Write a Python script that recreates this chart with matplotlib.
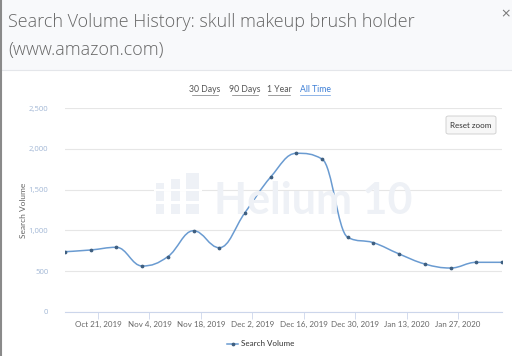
import datetime as dt
import numpy as np
import matplotlib
matplotlib.use("Agg")
import matplotlib.pyplot as plt
import matplotlib.dates as mdates
from matplotlib.path import Path
from matplotlib.patches import PathPatch, Rectangle, FancyBboxPatch

# weekly search volume
dates = [dt.date(2019, 10, 12) + dt.timedelta(days=7 * i) for i in range(18)]
volume = [739, 760, 793, 564, 678, 996, 788, 1217, 1654, 1945,
          1875, 915, 849, 711, 588, 539, 609, 609]
tick_dates = [dt.date(2019, 10, 21) + dt.timedelta(days=14 * i) for i in range(8)]
tick_labels = ["Oct 21, 2019", "Nov 4, 2019", "Nov 18, 2019", "Dec 2, 2019",
               "Dec 16, 2019", "Dec 30, 2019", "Jan 13, 2020", "Jan 27, 2020"]
y_ticks = [0, 500, 1000, 1500, 2000, 2500]
ranges = ["30 Days", "90 Days", "1 Year", "All Time"]

line_color = "#6a9bd1"
font = "Lato"
wm_color = "#eef1f6"


def spline_path(xs, ys, smoothing=1.5):
    # highcharts-style spline control points
    n = len(xs)
    left = [None] * n
    right = [None] * n
    for i in range(1, n - 1):
        x, y = xs[i], ys[i]
        lx, ly = xs[i - 1], ys[i - 1]
        nx, ny = xs[i + 1], ys[i + 1]
        d = smoothing + 1
        lcx = (smoothing * x + lx) / d
        lcy = (smoothing * y + ly) / d
        rcx = (smoothing * x + nx) / d
        rcy = (smoothing * y + ny) / d
        corr = (rcy - lcy) * (rcx - x) / (rcx - lcx) + y - rcy
        lcy += corr
        rcy += corr
        if lcy > ly and lcy > y:
            lcy = max(ly, y)
            rcy = 2 * y - lcy
        elif lcy < ly and lcy < y:
            lcy = min(ly, y)
            rcy = 2 * y - lcy
        if rcy > ny and rcy > y:
            rcy = max(ny, y)
            lcy = 2 * y - rcy
        elif rcy < ny and rcy < y:
            rcy = min(ny, y)
            lcy = 2 * y - rcy
        left[i] = (lcx, lcy)
        right[i] = (rcx, rcy)
    verts = [(xs[0], ys[0])]
    codes = [Path.MOVETO]
    for i in range(1, n):
        c1 = right[i - 1] if right[i - 1] else (xs[i - 1], ys[i - 1])
        c2 = left[i] if left[i] else (xs[i], ys[i])
        verts += [c1, c2, (xs[i], ys[i])]
        codes += [Path.CURVE4] * 3
    return Path(verts, codes)


def px(x, y):
    return x / 512, 1 - y / 356


fig = plt.figure(figsize=(5.12, 3.56), dpi=100)
fig.patch.set_facecolor("white")

# header band
fig.patches.append(Rectangle((0, 1 - 70 / 356), 1, 70 / 356, transform=fig.transFigure,
                             facecolor="#f8f9fb", edgecolor="none", zorder=0))
fig.lines.append(plt.Line2D([0, 1], [1 - 70 / 356] * 2, transform=fig.transFigure,
                            color="#e4e6ea", lw=0.8))
fig.lines.append(plt.Line2D([0.002, 0.002], [0, 1], transform=fig.transFigure,
                            color="#8a8a8a", lw=1.5))
fig.text(*px(8, 27), "Search Volume History: skull makeup brush holder",
         fontsize=13, color="#666666", family="Open Sans", fontweight="light",
         va="baseline")
fig.text(*px(8, 55), "(www.amazon.com)",
         fontsize=13, color="#666666", family="Open Sans", fontweight="light",
         va="baseline")
fig.text(*px(506, 14), "×", fontsize=9, color="#777777", ha="center", va="center")

# range selector
rx = [205, 245, 279, 315]
for label, x in zip(ranges, rx):
    col = "#3d7fd6" if label == "All Time" else "#555555"
    fig.text(*px(x, 90), label, fontsize=6.2, color=col, ha="center",
             va="center", family=font)
    w = len(label) * 3.7 / 2
    fig.lines.append(plt.Line2D([(x - w) / 512, (x + w) / 512], [1 - 95 / 356] * 2,
                                transform=fig.transFigure, color=col, lw=0.5,
                                alpha=0.8))

ax = fig.add_axes([65 / 512, 1 - 312 / 356, 437 / 512, 204 / 356])
xs = mdates.date2num(dates)
ax.add_patch(PathPatch(spline_path(list(xs), volume), facecolor="none",
                       edgecolor=line_color, lw=1.1, zorder=3))
ax.plot(xs, volume, ls="none", marker="o", ms=1.7, color="#3f5f80", zorder=4)

ax.set_xlim(xs[0], xs[-1])
ax.set_ylim(0, 2500)
ax.set_yticks(y_ticks)
ax.set_yticklabels([f"{v:,}" for v in y_ticks], color="#a3b8d6", fontsize=5.6,
                   family="Open Sans")
ax.set_xticks(mdates.date2num(tick_dates))
ax.set_xticklabels(tick_labels, color="#666666", fontsize=5.8, family=font)
ax.tick_params(axis="y", length=0, pad=12)
ax.tick_params(axis="x", length=5, width=0.6, color="#ccd6eb", pad=1.5)
ax.grid(axis="y", color="#e6e6e6", lw=0.8)
ax.set_axisbelow(True)
for s in ["top", "right", "left"]:
    ax.spines[s].set_visible(False)
ax.spines["bottom"].set_color("#ccd6eb")
ax.spines["bottom"].set_linewidth(0.8)
ax.set_ylabel("Search Volume", fontsize=6, color="#666666", family=font)
ax.yaxis.set_label_coords(-0.088, 0.5)

# watermark
fig.text(*px(214, 214), "Helium 10", fontsize=31, color=wm_color,
         family=font, fontweight="bold", va="baseline", ha="left", zorder=1)
for bx, bw, top in [(156, 8, 183), (171, 9, 179), (186, 13, 173)]:
    fig.patches.append(Rectangle(px(bx, 214), bw / 512, (214 - top) / 356,
                                 transform=fig.transFigure, facecolor=wm_color,
                                 edgecolor="none", zorder=1))
for gy in [190, 202]:
    fig.patches.append(Rectangle(px(154, gy + 1.5), 48 / 512, 2.5 / 356,
                                 transform=fig.transFigure, facecolor="white",
                                 edgecolor="none", zorder=1))

# reset zoom button
fig.patches.append(FancyBboxPatch(px(446, 134), 50 / 512, 18 / 356,
                                  boxstyle="round,pad=0,rounding_size=0.005",
                                  transform=fig.transFigure, facecolor="#f7f7f7",
                                  edgecolor="#cccccc", lw=0.6))
fig.text(*px(471, 125), "Reset zoom", fontsize=5.8, color="#333333",
         ha="center", va="center", family=font)

# legend
fig.lines.append(plt.Line2D([227 / 512, 238 / 512], [1 - 344 / 356] * 2,
                            transform=fig.transFigure, color=line_color, lw=1.1))
fig.lines.append(plt.Line2D([232.5 / 512], [1 - 344 / 356], transform=fig.transFigure,
                            marker="o", ms=1.7, color="#3f5f80"))
fig.text(*px(241, 344), "Search Volume", fontsize=5.8, color="#333333",
         va="center", family=font)

fig.savefig("out.png", dpi=100)
